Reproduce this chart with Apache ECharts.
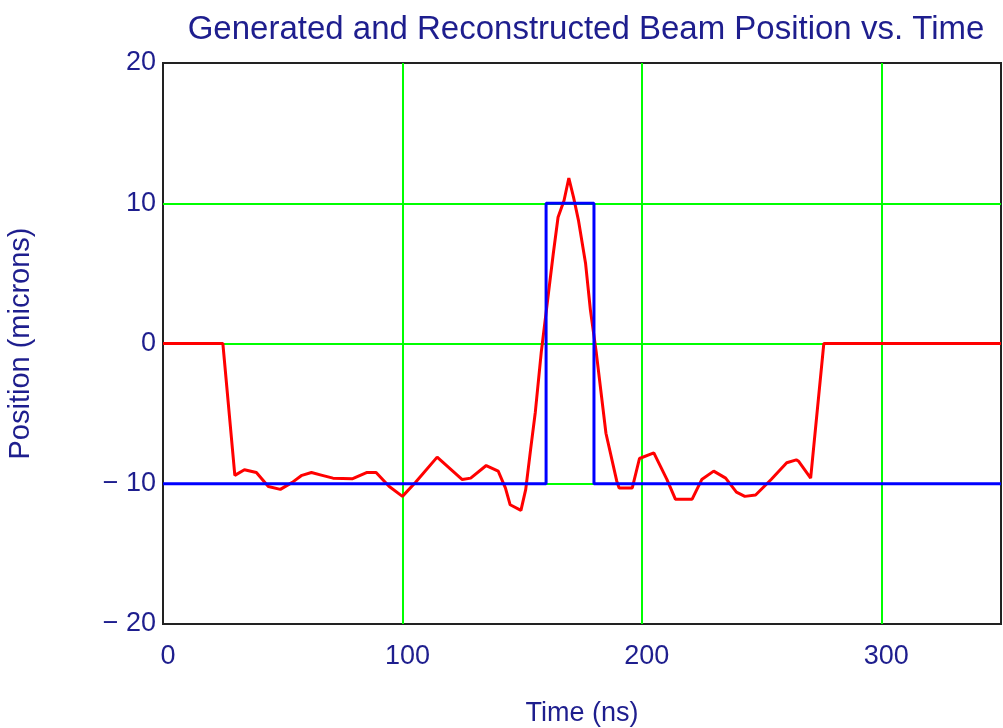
<!DOCTYPE html>
<html>
<head>
<meta charset="utf-8">
<script src="https://cdn.jsdelivr.net/npm/echarts@6/dist/echarts.min.js"></script>
<style>html,body{margin:0;padding:0;background:#fff}#c{width:1003px;height:728px}</style>
</head>
<body>
<div id="c"></div>
<script>
const titleText = 'Generated and Reconstructed Beam Position vs. Time';
const xName = 'Time (ns)';
const yName = 'Position (microns)';
const xTicks = [0, 100, 200, 300];
const yTicks = [-20, -10, 0, 10, 20];
// Generated beam position (blue step)
const generated = [[0,-10],[160,-10],[160,10],[180,10],[180,-10],[350,-10]];
// Reconstructed beam position (red)
const reconstructed = [[0,0],[25,0],[30,-9.4],[34,-9.0],[39,-9.2],[44,-10.2],[49,-10.4],[54,-9.9],[58,-9.4],[62,-9.2],[66.5,-9.4],[71,-9.6],[79,-9.65],[85,-9.2],[89,-9.2],[94.5,-10.2],[100,-10.9],[105.5,-9.9],[114.5,-8.1],[125,-9.7],[128.5,-9.6],[135,-8.7],[140,-9.1],[143,-10.3],[145,-11.5],[149.5,-11.9],[151.5,-10.4],[153.5,-7.6],[155.5,-4.9],[158,-0.6],[161,3.6],[163,6.4],[165,9.0],[167.5,10.2],[169.5,11.8],[171.5,10.4],[173.5,8.8],[176.5,5.7],[178.5,2.4],[181,-0.7],[185,-6.4],[189.5,-9.8],[190.5,-10.3],[196,-10.3],[199,-8.2],[205,-7.8],[210.5,-9.7],[214,-11.1],[221,-11.1],[225,-9.7],[230,-9.1],[235,-9.6],[239.5,-10.6],[243,-10.9],[247.5,-10.8],[254,-9.7],[260.5,-8.5],[264.5,-8.3],[265.5,-8.4],[270.5,-9.6],[276,0],[350,0]];

const navy = '#1e1e8e';
const font = 'Liberation Sans, Arial, sans-serif';
const chart = echarts.init(document.getElementById('c'));
chart.setOption({
  animation: false,
  backgroundColor: '#fff',
  title: {
    text: titleText, left: 581, top: 8, textAlign: 'center',
    textStyle: {color: navy, fontSize: 33, fontWeight: 'normal', fontFamily: font}
  },
  grid: {left: 163, top: 63, right: 2, bottom: 104, outerBoundsMode: 'none', containLabel: false,
    show: true, borderColor: '#222', borderWidth: 2, backgroundColor: 'transparent'},
  xAxis: {
    type: 'value', min: 0, max: 350, interval: 100,
    name: xName, nameLocation: 'middle', nameGap: 76,
    nameTextStyle: {color: navy, fontSize: 27, fontFamily: font},
    axisLine: {show: false}, axisTick: {show: false},
    axisLabel: {color: navy, fontSize: 27, fontFamily: font, margin: 19, padding: [0,0,0,10], showMaxLabel: false,
      formatter: v => xTicks.includes(v) ? String(v) : ''},
    splitLine: {show: true, showMinLine: false, showMaxLine: false, lineStyle: {color: '#00ff00', width: 2}}
  },
  yAxis: {
    type: 'value', min: -20, max: 20, interval: 10,
    name: yName, nameLocation: 'middle', nameGap: 128,
    nameTextStyle: {color: navy, fontSize: 29, fontFamily: font},
    axisLine: {show: false}, axisTick: {show: false},
    axisLabel: {color: navy, fontSize: 27, fontFamily: font, margin: 7, padding: [4,0,0,0],
      formatter: v => yTicks.includes(v) ? (v < 0 ? '\u2212 ' + Math.abs(v) : String(v)) : ''},
    splitLine: {show: true, showMinLine: false, showMaxLine: false, lineStyle: {color: '#00ff00', width: 2}}
  },
  series: [
    {type: 'line', data: generated, showSymbol: false, lineStyle: {color: '#0000ff', width: 3}, z: 3},
    {type: 'line', data: reconstructed, showSymbol: false, lineStyle: {color: '#ff0000', width: 3}, z: 2}
  ]
});
</script>
</body>
</html>
